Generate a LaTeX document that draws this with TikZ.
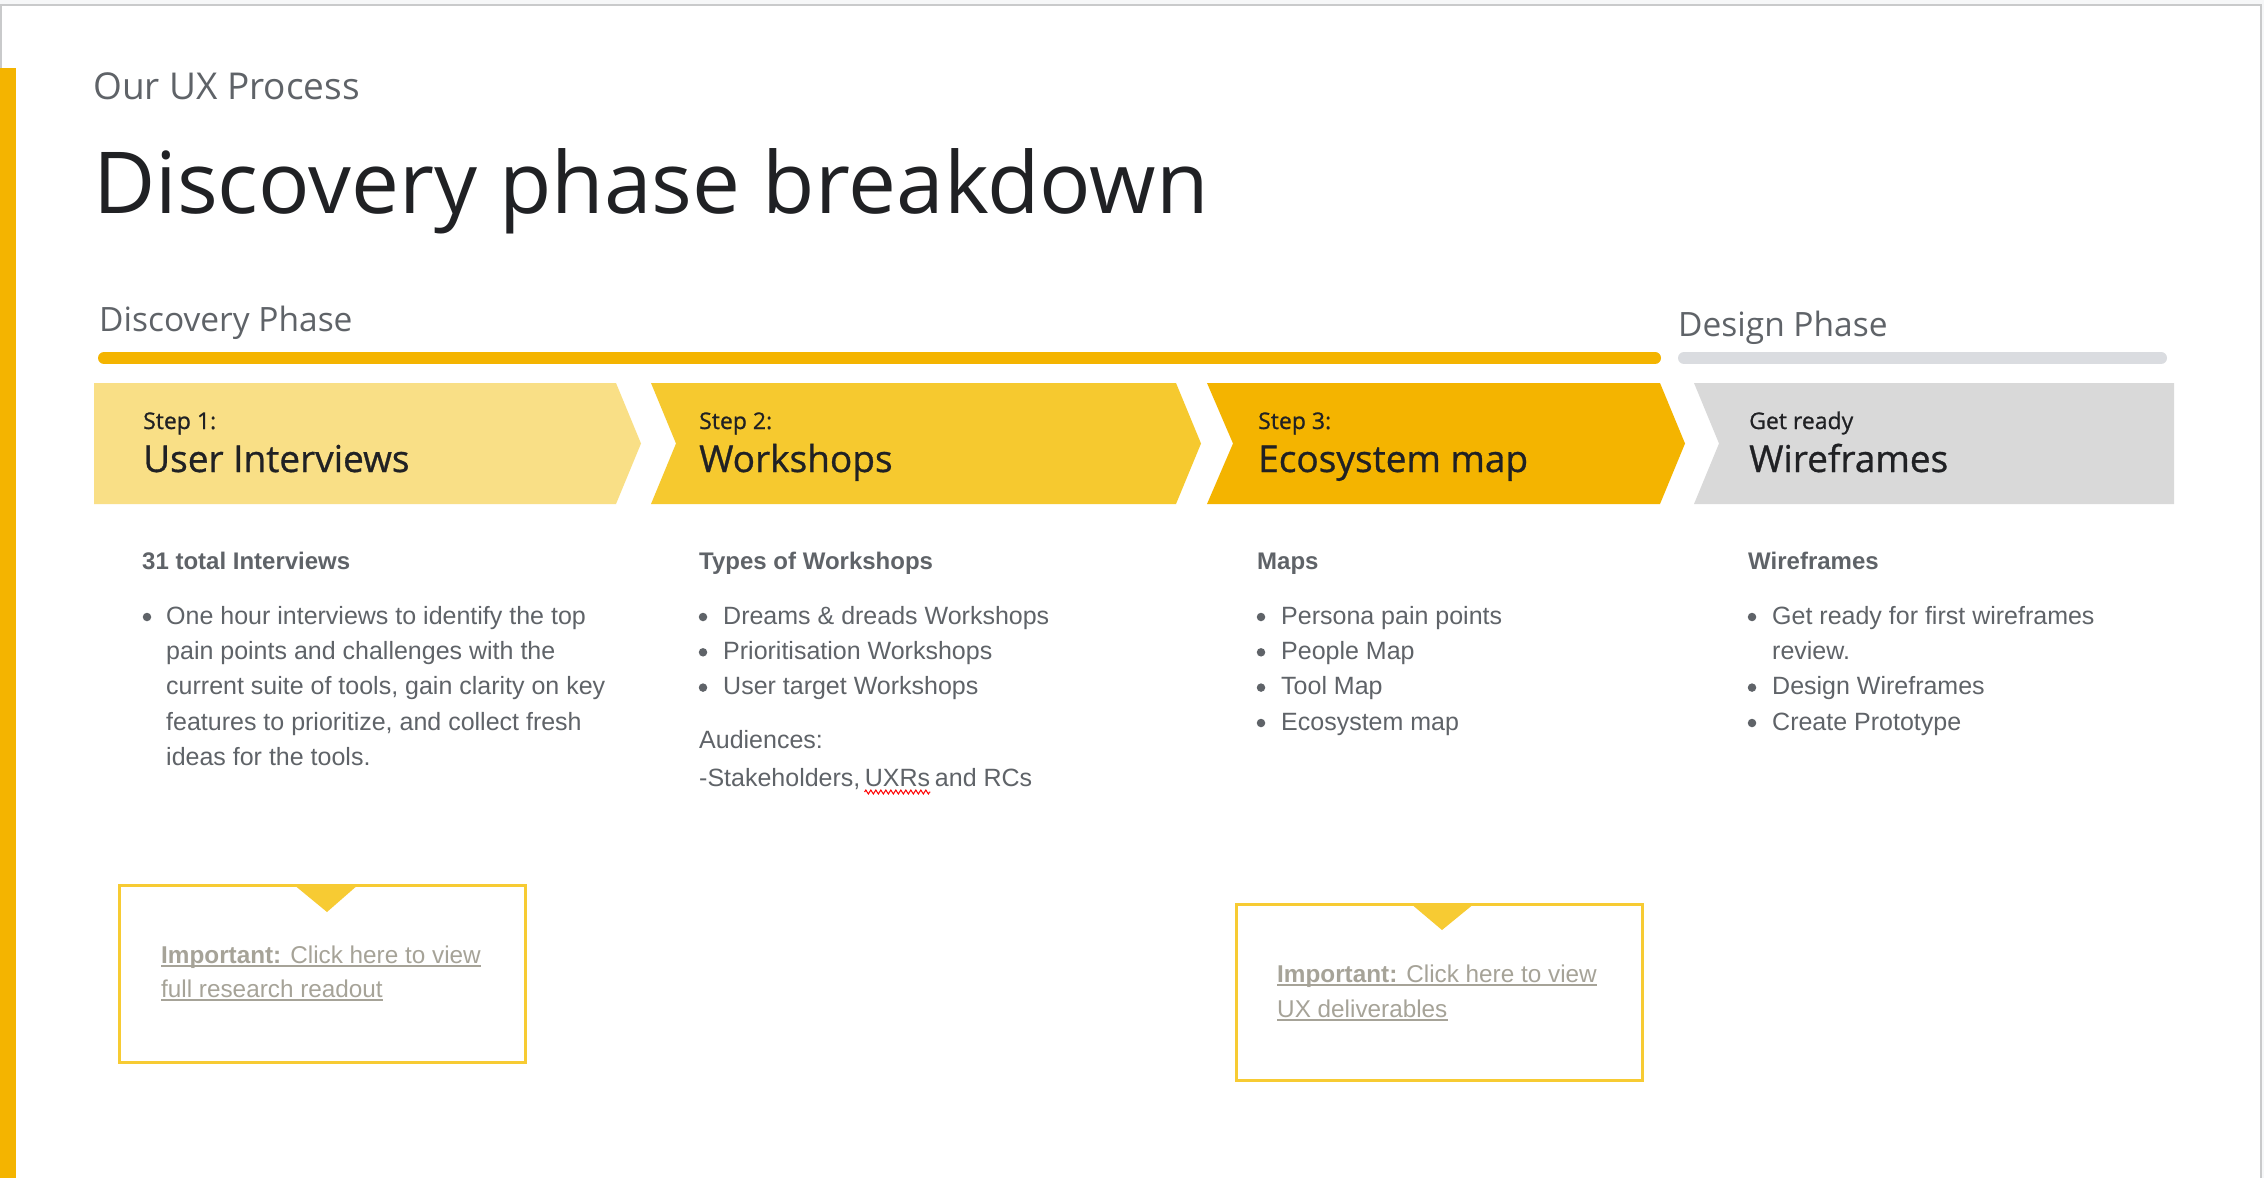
\documentclass[tikz,border=0pt]{standalone}
\usepackage{fontspec}
\setmainfont{Liberation Sans}
\newfontfamily\headfont{Open Sans}
\newfontfamily\headmed[FakeBold=0.8]{Open Sans}
\usetikzlibrary{decorations.pathmorphing}
\definecolor{ink}{HTML}{202124}
\definecolor{grayt}{HTML}{5F6368}
\definecolor{linkt}{RGB}{166,163,152}
\definecolor{yA}{HTML}{F9DF86}
\definecolor{yB}{HTML}{F6C92F}
\definecolor{yC}{HTML}{F4B400}
\definecolor{gD}{HTML}{D9D9D9}
\definecolor{boxb}{HTML}{F7CB33}
\definecolor{barg}{HTML}{DADCE0}
\definecolor{frameg}{HTML}{C9CACB}
\definecolor{outbg}{HTML}{F6F7F8}
\tikzset{
  txt/.style={inner sep=0pt, anchor=base west},
  body/.style={txt, text=grayt, font=\fontsize{25}{29}\selectfont},
  bodyb/.style={txt, text=grayt, font=\fontsize{24}{29}\selectfont\bfseries},
  stepsm/.style={txt, text=ink, font=\headmed\fontsize{23}{26}\selectfont},
  stepbig/.style={txt, text=ink, font=\headmed\fontsize{37}{40}\selectfont},
  phase/.style={txt, text=grayt, font=\headfont\fontsize{33.5}{36}\selectfont},
  linktext/.style={txt, text=linkt, font=\fontsize{24.3}{29}\selectfont},
  bul/.style={circle, fill=grayt, inner sep=0pt, minimum size=8.5pt},
  linkbox/.style={draw=boxb, line width=3pt, fill=white, anchor=north west, inner sep=0pt},
  uline/.style={linkt, line width=1.8pt}
}
\begin{document}
\begin{tikzpicture}[x=1pt,y=-1pt]
\useasboundingbox (0,0) rectangle (2264,1178);
% frame
\fill[outbg] (0,0) rectangle (2264,1178);
\fill[white] (0,5) rectangle (2261,1178);
\draw[frameg, line width=2pt] (1,1178) -- (1,5) -- (2261,5) -- (2261,1178);
\fill[yC] (0,68) rectangle (16,1178);
% headings
\node[txt, text=grayt, font=\headfont\fontsize{37}{42}\selectfont] (sub) at (93,99) {Our UX Process};
\node[txt, text=ink, font=\headfont\fontsize{85.5}{90}\selectfont] (title) at (93,213) {Discovery phase breakdown};
\node[phase] (disc) at (99,331) {Discovery Phase};
\node[phase] (desg) at (1678,336) {Design Phase};
% phase bars
\draw[yC, line width=12pt, line cap=round] (104,358) -- (1655,358);
\draw[barg, line width=12pt, line cap=round] (1684,358) -- (2161,358);
% chevrons
\fill[yA] (94,383) -- (616,383) -- (641,443.5) -- (616,504) -- (94,504) -- cycle;
\fill[yB] (651,383) -- (1176,383) -- (1201,443.5) -- (1176,504) -- (651,504) -- (676,443.5) -- cycle;
\fill[yC] (1207,383) -- (1660,383) -- (1685,443.5) -- (1660,504) -- (1207,504) -- (1233,443.5) -- cycle;
\fill[gD] (1694,383) -- (2174,383) -- (2174,504) -- (1694,504) -- (1719,443.5) -- cycle;
\node[stepsm] (s1a) at (143,429) {Step 1:};
\node[stepbig] (s1b) at (143,472) {User Interviews};
\node[stepsm] (s2a) at (699,429) {Step 2:};
\node[stepbig] (s2b) at (699,472) {Workshops};
\node[stepsm] (s3a) at (1258,429) {Step 3:};
\node[stepbig] (s3b) at (1258,472) {Ecosystem map};
\node[stepsm] (s4a) at (1749,429) {Get ready};
\node[stepbig] (s4b) at (1749,472) {Wireframes};
% column 1
\node[bodyb] (h1) at (142,569) {31 total Interviews};
\node[bul] (b11) at (147,617) {};
\node[body] (c1a) at (166,624) {One hour interviews to identify the top};
\node[body] (c1b) at (166,659.3) {pain points and challenges with the};
\node[body] (c1c) at (166,694.6) {current suite of tools, gain clarity on key};
\node[body] (c1d) at (166,730) {features to prioritize, and collect fresh};
\node[body] (c1e) at (166,765.3) {ideas for the tools.};
% column 2
\node[bodyb] (h2) at (699,569) {Types of Workshops};
\node[bul] (b21) at (703,617) {};
\node[bul] (b22) at (703,652.3) {};
\node[bul] (b23) at (703,687.6) {};
\node[body] (c2a) at (723,624) {Dreams \& dreads Workshops};
\node[body] (c2b) at (723,659.3) {Prioritisation Workshops};
\node[body] (c2c) at (723,694.6) {User target Workshops};
\node[body] (c2d) at (699,748) {Audiences:};
\node[body] (c2e) at (699,786) {-Stakeholders,};
\node[body] (c2f) at ([xshift=4pt]c2e.base east) {UXRs};
\node[body] (c2g) at ([xshift=4.5pt]c2f.base east) {and RCs};
\draw[red, line width=1pt, decorate, decoration={zigzag, segment length=5pt, amplitude=2pt}] ([yshift=-6pt]c2f.base west) -- ([yshift=-6pt]c2f.base east);
% column 3
\node[bodyb] (h3) at (1257,569) {Maps};
\node[bul] (b31) at (1261,617) {};
\node[bul] (b32) at (1261,652.3) {};
\node[bul] (b33) at (1261,687.6) {};
\node[bul] (b34) at (1261,723) {};
\node[body] (c3a) at (1281,624) {Persona pain points};
\node[body] (c3b) at (1281,659.3) {People Map};
\node[body] (c3c) at (1281,694.6) {Tool Map};
\node[body] (c3d) at (1281,730) {Ecosystem map};
% column 4
\node[bodyb] (h4) at (1748,569) {Wireframes};
\node[bul] (b41) at (1752,617) {};
\node[bul] (b43) at (1752,687.6) {};
\node[bul] (b44) at (1752,723) {};
\node[body] (c4a) at (1772,624) {Get ready for first wireframes};
\node[body] (c4b) at (1772,659.3) {review.};
\node[body] (c4c) at (1772,694.6) {Design Wireframes};
\node[body] (c4d) at (1772,730) {Create Prototype};
% link boxes
\node[linkbox, minimum width=406pt, minimum height=177pt] (box1) at (118,884) {};
\fill[boxb] (293,884) -- (359,884) -- (327,912) -- cycle;
\node[linktext] (l1a) at (161,963) {\textbf{Important:} Click here to view};
\node[linktext] (l1b) at (161,997) {full research readout};
\draw[uline] ([yshift=-3pt]l1a.base west) -- ([yshift=-3pt]l1a.base east);
\draw[uline] ([yshift=-3pt]l1b.base west) -- ([yshift=-3pt]l1b.base east);
\node[linkbox, minimum width=406pt, minimum height=176pt] (box2) at (1235,903) {};
\fill[boxb] (1410,903) -- (1475,903) -- (1442,930) -- cycle;
\node[linktext] (l2a) at (1277,982) {\textbf{Important:} Click here to view};
\node[linktext] (l2b) at (1277,1017) {UX deliverables};
\draw[uline] ([yshift=-3pt]l2a.base west) -- ([yshift=-3pt]l2a.base east);
\draw[uline] ([yshift=-3pt]l2b.base west) -- ([yshift=-3pt]l2b.base east);
\end{tikzpicture}
\end{document}
